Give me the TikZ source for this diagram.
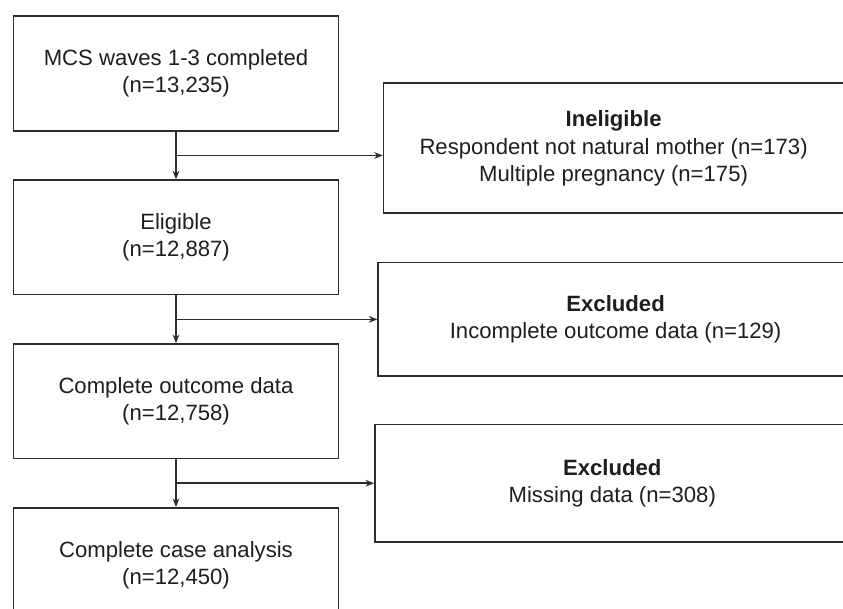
\documentclass[tikz,border=0pt]{standalone}
\usepackage{fontspec}
\setmainfont{Liberation Sans}
\usepackage{tikz}
\usetikzlibrary{shapes.geometric, arrows, arrows.meta}
\usetikzlibrary{positioning}
\usetikzlibrary{calc}
\definecolor{boxline}{RGB}{45,45,45}
\definecolor{boxtext}{RGB}{30,30,30}
\tikzstyle{stage} = [rectangle, minimum width=243.75pt, minimum height=85.9pt, inner sep=0pt, text centered, align=center, draw=boxline, line width=1.2pt, text=boxtext, font=\fontsize{16.6}{20.3}\selectfont]
\tikzstyle{dropout} = [stage, anchor=west, minimum width=356pt]
\tikzstyle{arrow} = [line width=1.2pt, draw=boxline, ->, >={Stealth[length=6.5pt, width=5pt]}]
\tikzstyle{link} = [line width=1.2pt, draw=boxline, -]

\begin{document}
\begin{tikzpicture}[x=0.75pt, y=-0.75pt, node distance = 35.8pt]
                                \useasboundingbox (0,0) rectangle (843,609);
                                \clip (0,0) rectangle (843,609);
                                % main flow
                                \node (waves) [stage, anchor=north west] at (12.7,15.5) {MCS waves 1-3 completed\\(n=13,235)};
                                \node (eligible) [stage, below = of waves] {Eligible\\(n=12,887)};
                                \node (outcome) [stage, below = of eligible] {Complete outcome data\\(n=12,758)};
                                \node (analysis) [stage, below = of outcome] {Complete case analysis\\(n=12,450)};
                                % split points
                                \coordinate (split1) at ($(waves.south)!0.5!(eligible.north)$);
                                \coordinate (split2) at ($(eligible.south)!0.5!(outcome.north)$);
                                \coordinate (split3) at ($(outcome.south)!0.5!(analysis.north)$);
                                % side boxes
                                \node (ineligible) [dropout, right = 155.1pt of split1, yshift=5.4pt, minimum width=345pt, minimum height=97.5pt] {\textbf{Ineligible}\\Respondent not natural mother (n=173)\\Multiple pregnancy (n=175)};
                                \node (nooutcome) [dropout, right = 151.1pt of split2, minimum height=85pt] {\textbf{Excluded}\\Incomplete outcome data (n=129)};
                                \node (missing) [dropout, right = 148.6pt of split3, minimum height=88pt] {\textbf{Excluded}\\Missing data (n=308)};
                                \draw [arrow] (waves) -- (eligible);
                                \draw [arrow] (eligible) -- (outcome);
                                \draw [arrow] (outcome) -- (analysis);
                                \draw [arrow] (split1) -- (split1 -| ineligible.west);
                                \draw [arrow] (split2) -- (split2 -| nooutcome.west);
                                \draw [arrow] (split3) -- (split3 -| missing.west);
                            \end{tikzpicture}
\end{document}
